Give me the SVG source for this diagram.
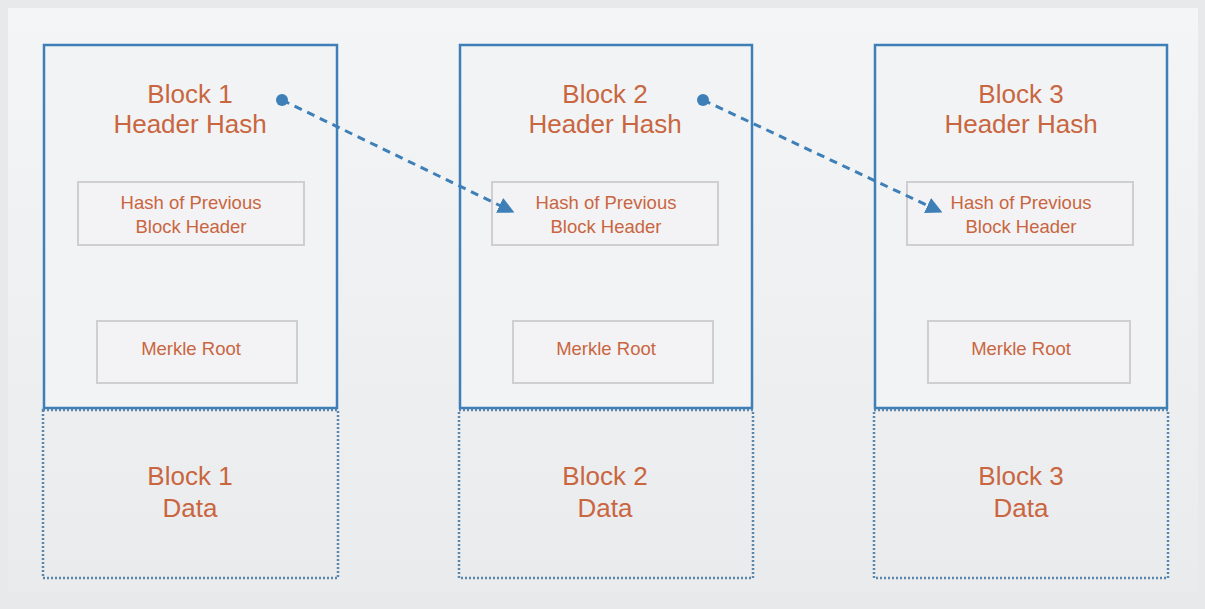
<svg xmlns="http://www.w3.org/2000/svg" width="1205" height="609" viewBox="0 0 1205 609">
<defs>
<style>
.hdr{fill:#f2f3f5;stroke:#3d7fb6;stroke-width:2.5}
.data{fill:none;stroke:#5a86ad;stroke-width:2.5;stroke-dasharray:2 2}
.inner{fill:#f3f3f5;stroke:#cfcfd2;stroke-width:2}
.big{font-family:"Liberation Sans",Arial,sans-serif;font-size:26px;fill:#c9663f;text-anchor:middle}
.small{font-family:"Liberation Sans",Arial,sans-serif;font-size:18.5px;fill:#c9663f;text-anchor:middle}
.link{fill:none;stroke:#3d7fb6;stroke-width:3;stroke-dasharray:8 6}
</style>
<marker id="tri" viewBox="0 0 10 10" refX="5" refY="5" markerWidth="5.5" markerHeight="5.5" orient="auto" markerUnits="strokeWidth">
<path d="M0,0 L10,5 L0,10 z" fill="#3d7fb6"/>
</marker>
<marker id="dot" viewBox="0 0 10 10" refX="5" refY="5" markerWidth="4" markerHeight="4" markerUnits="strokeWidth">
<circle cx="5" cy="5" r="5" fill="#3d7fb6"/>
</marker>
<linearGradient id="bg" x1="0" y1="0" x2="0" y2="1">
<stop offset="0" stop-color="#f4f5f7"/>
<stop offset="1" stop-color="#eaebed"/>
</linearGradient>
</defs>
<rect x="0" y="0" width="1205" height="609" fill="#e8e9eb"/>
<rect x="8" y="8" width="1190" height="584" fill="url(#bg)"/>

<g id="block1">
<rect class="hdr" x="44" y="45" width="293" height="363"/>
<text class="big" x="190" y="103">Block 1</text>
<text class="big" x="190" y="133">Header Hash</text>
<rect class="inner" x="78" y="182" width="226" height="63"/>
<text class="small" x="191" y="209">Hash of Previous</text>
<text class="small" x="191" y="233">Block Header</text>
<rect class="inner" x="97" y="321" width="200" height="62"/>
<text class="small" x="191" y="355">Merkle Root</text>
<rect class="data" x="43" y="410" width="295" height="168"/>
<text class="big" x="190" y="485">Block 1</text>
<text class="big" x="190" y="517">Data</text>
</g>

<g id="block2">
<rect class="hdr" x="460" y="45" width="292" height="363"/>
<text class="big" x="605" y="103">Block 2</text>
<text class="big" x="605" y="133">Header Hash</text>
<rect class="inner" x="492" y="182" width="226" height="63"/>
<text class="small" x="606" y="209">Hash of Previous</text>
<text class="small" x="606" y="233">Block Header</text>
<rect class="inner" x="513" y="321" width="200" height="62"/>
<text class="small" x="606" y="355">Merkle Root</text>
<rect class="data" x="459" y="410" width="294" height="168"/>
<text class="big" x="605" y="485">Block 2</text>
<text class="big" x="605" y="517">Data</text>
</g>

<g id="block3">
<rect class="hdr" x="875" y="45" width="292" height="363"/>
<text class="big" x="1021" y="103">Block 3</text>
<text class="big" x="1021" y="133">Header Hash</text>
<rect class="inner" x="907" y="182" width="226" height="63"/>
<text class="small" x="1021" y="209">Hash of Previous</text>
<text class="small" x="1021" y="233">Block Header</text>
<rect class="inner" x="928" y="321" width="202" height="62"/>
<text class="small" x="1021" y="355">Merkle Root</text>
<rect class="data" x="874" y="410" width="294" height="168"/>
<text class="big" x="1021" y="485">Block 3</text>
<text class="big" x="1021" y="517">Data</text>
</g>

<g id="connectors">
<path class="link" d="M282,100 L507,209" marker-start="url(#dot)" marker-end="url(#tri)"/>
<path class="link" d="M703,100 L935,209" marker-start="url(#dot)" marker-end="url(#tri)"/>
</g>
</svg>
